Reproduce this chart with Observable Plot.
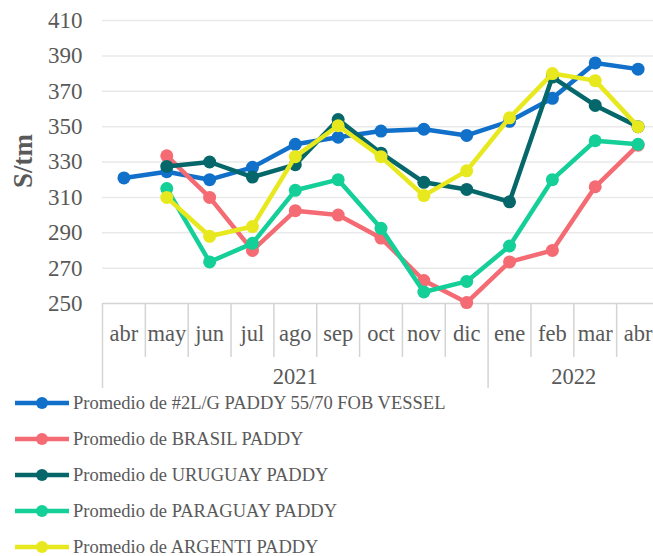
<!DOCTYPE html>
<html>
<head>
<meta charset="utf-8">
<script src="https://cdn.jsdelivr.net/npm/d3@7"></script>
<script src="https://cdn.jsdelivr.net/npm/@observablehq/plot@0.6"></script>
<style>
  body { margin: 0; background: #fff; font-family: "Liberation Serif", "Times New Roman", serif; }
  #chart { position: relative; width: 653px; }
  .legend { margin-top: -7px; }
  .legend .item { display: flex; align-items: center; height: 36px; font-size: 18.5px; color: #595959; white-space: nowrap; }
  .legend svg { margin-left: 15px; margin-right: 4px; }
</style>
</head>
<body>
<div id="chart"></div>
<script>
const months = ["abr","may","jun","jul","ago","sep","oct","nov","dic","ene","feb","mar","abr"];
const years = ["2021","2022"];
const yearSpans = [[0, 9], [9, 13]];
const yTicks = [250, 270, 290, 310, 330, 350, 370, 390, 410];

const seriesNames = [
  "Promedio de #2L/G PADDY 55/70 FOB VESSEL",
  "Promedio de BRASIL PADDY",
  "Promedio de URUGUAY PADDY",
  "Promedio de PARAGUAY PADDY",
  "Promedio de ARGENTI PADDY"
];
const seriesColors = ["#1170C9", "#F46B73", "#05676A", "#14CF98", "#E8E81E"];

const fobVessel = [321, 324.5, 320, 327, 340, 344, 347.5, 348.5, 345, 353, 366, 386, 382.5];
const brasil    = [null, 333.5, 310, 280, 302.5, 300, 287, 263, 250.5, 273.5, 280, 316, 339.5];
const uruguay   = [null, 327.5, 330, 321.5, 328.5, 354, 335, 318.5, 314.5, 307.5, 378, 362, 350];
const paraguay  = [null, 315, 273.5, 284, 314, 320, 292.5, 256.5, 262.5, 282.5, 320, 342, 340];
const argenti   = [null, 310, 288, 293.5, 333, 350.5, 333, 311, 325, 355, 380, 376, 350];

const allSeries = [fobVessel, brasil, uruguay, paraguay, argenti];
const rows = [];
allSeries.forEach((vals, s) => vals.forEach((v, i) => {
  if (v != null) rows.push({series: seriesNames[s], idx: i + 0.5, value: v});
}));

const boundaries = d3.range(0, 14);
const monthPos = months.map((m, i) => ({label: m, idx: i + 0.5}));
const yearPos = years.map((y, i) => ({label: y, idx: (yearSpans[i][0] + yearSpans[i][1]) / 2}));
const yearBounds = [0, 9];

const font = "Liberation Serif";
const grey = "#595959";

const marks = [
  Plot.ruleY(yTicks.filter(d => d > 250), {y: d => d, stroke: "#e9e9e9", strokeWidth: 1.5}),
  Plot.ruleY([250], {stroke: "#d4d4d4", strokeWidth: 1.5}),
  Plot.ruleX(boundaries.filter(b => !yearBounds.includes(b)), {x: d => d, y1: 250, y2: 219.5, stroke: "#d4d4d4", strokeWidth: 1.5}),
  Plot.ruleX(yearBounds, {x: d => d, y1: 250, y2: 202, stroke: "#d4d4d4", strokeWidth: 1.5}),
  Plot.text(yTicks, {x: 0, y: d => d, text: d => String(d), textAnchor: "end", dx: -20, fontSize: 23, fill: grey, fontFamily: font}),
  Plot.text(monthPos, {x: "idx", y: 250, text: "label", dy: 30, fontSize: 22.5, fill: grey, fontFamily: font}),
  Plot.text(yearPos, {x: "idx", y: 250, text: "label", dy: 73, fontSize: 22.5, fill: grey, fontFamily: font}),
];
seriesNames.forEach((name, s) => {
  const data = rows.filter(r => r.series === name);
  marks.push(Plot.line(data, {x: "idx", y: "value", stroke: seriesColors[s], strokeWidth: 4.5}));
  marks.push(Plot.dot(data, {x: "idx", y: "value", fill: seriesColors[s], r: 6.5}));
});

const chart = Plot.plot({
  width: 653,
  height: 392,
  marginTop: 0,
  marginLeft: 102,
  marginRight: 0,
  marginBottom: 89,
  x: {domain: [0, 13], range: [102, 659], axis: null},
  y: {domain: [250, 410], range: [303, 20], axis: null},
  style: {fontFamily: font, background: "#fff", overflow: "visible"},
  marks
});

const wrap = document.getElementById("chart");
wrap.appendChild(chart);

// y-axis title
const svg = d3.select(chart);
svg.append("text")
  .attr("transform", "translate(32,161) rotate(-90)")
  .attr("text-anchor", "middle")
  .attr("font-family", font)
  .attr("font-weight", "bold")
  .attr("font-size", 27)
  .attr("fill", grey)
  .text("S/tm");

// legend
const legend = document.createElement("div");
legend.className = "legend";
seriesNames.forEach((name, s) => {
  const item = document.createElement("div");
  item.className = "item";
  item.innerHTML = `<svg width="54" height="12"><line x1="0" y1="6" x2="54" y2="6" stroke="${seriesColors[s]}" stroke-width="4.5"/><circle cx="27" cy="6" r="6" fill="${seriesColors[s]}"/></svg><span>${name.replace(/&/g,"&amp;")}</span>`;
  legend.appendChild(item);
});
wrap.appendChild(legend);
</script>
</body>
</html>
